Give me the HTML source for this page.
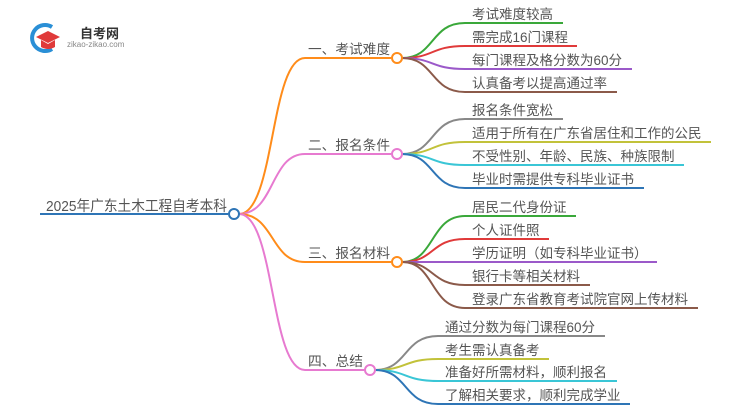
<!DOCTYPE html>
<html><head><meta charset="utf-8"><style>
body{margin:0;background:#fff;width:750px;height:410px;overflow:hidden}
svg text{font-family:"Liberation Sans","Noto Sans CJK SC",sans-serif;fill:#555;font-size:13.5px}
</style></head><body>
<svg width="750" height="410" viewBox="0 0 750 410" fill="none" stroke-width="2">
<!-- logo -->
<path d="M52,27 A13,13 0 1 0 52,49" stroke="#2a8fd6" stroke-width="4"/>
<path d="M36,37 L48,31 L60,37 L48,43 Z" fill="#e03a3a" stroke="none"/>
<path d="M41,40 L41,47 Q48,51 55,47 L55,40 L48,44 Z" fill="#e03a3a" stroke="none"/>
<text x="80" y="38" style="font-size:13px;font-weight:bold;fill:#333">自考网</text>
<text x="67" y="47" style="font-size:8px;fill:#888">zikao-zikao.com</text>

<!-- root -->
<text x="46" y="211" textLength="181" lengthAdjust="spacingAndGlyphs" style="font-size:14.5px">2025年广东土木工程自考本科</text>
<path d="M40,214 L228,214" stroke="#2e75b6"/>
<path d="M239,214 C275,214 270,58 305,58 L391,58" stroke="#ff8c1a"/>
<path d="M239,214 C275,214 270,154 305,154 L391,154" stroke="#e77ad0"/>
<path d="M239,214 C275,214 270,262 305,262 L391,262" stroke="#ff8c1a"/>
<path d="M239,214 C275,214 270,370 305,370 L364,370" stroke="#e77ad0"/>
<circle cx="234" cy="214" r="5" fill="#fff" stroke="#2e75b6"/>

<g style="font-size:13.7px">
<text x="308" y="54" textLength="82" lengthAdjust="spacingAndGlyphs">一、考试难度</text>
<text x="308" y="150" textLength="82" lengthAdjust="spacingAndGlyphs">二、报名条件</text>
<text x="308" y="258" textLength="82" lengthAdjust="spacingAndGlyphs">三、报名材料</text>
<text x="308" y="366" textLength="55" lengthAdjust="spacingAndGlyphs">四、总结</text>
</g>

<!-- branch 1 -->
<path d="M402,58 C435,58 430,23 465,23 L563,23" stroke="#3aa83a"/>
<path d="M402,58 C435,58 430,46 465,46 L577,46" stroke="#e03a3a"/>
<path d="M402,58 C435,58 430,69 465,69 L632,69" stroke="#9b59c9"/>
<path d="M402,58 C435,58 430,92 465,92 L617,92" stroke="#8b5a4a"/>
<circle cx="397" cy="58" r="5" fill="#fff" stroke="#ff8c1a"/>
<text x="472" y="19">考试难度较高</text>
<text x="472" y="42">需完成16门课程</text>
<text x="472" y="65">每门课程及格分数为60分</text>
<text x="472" y="88">认真备考以提高通过率</text>

<!-- branch 2 -->
<path d="M402,154 C435,154 430,119 465,119 L563,119" stroke="#888"/>
<path d="M402,154 C435,154 430,142 465,142 L711,142" stroke="#c2c23a"/>
<path d="M402,154 C435,154 430,165 465,165 L684,165" stroke="#3ac6d6"/>
<path d="M402,154 C435,154 430,188 465,188 L644,188" stroke="#2e75b6"/>
<circle cx="397" cy="154" r="5" fill="#fff" stroke="#e77ad0"/>
<text x="472" y="115">报名条件宽松</text>
<text x="472" y="138">适用于所有在广东省居住和工作的公民</text>
<text x="472" y="161">不受性别、年龄、民族、种族限制</text>
<text x="472" y="184">毕业时需提供专科毕业证书</text>

<!-- branch 3 -->
<path d="M402,262 C435,262 430,216 465,216 L576,216" stroke="#3aa83a"/>
<path d="M402,262 C435,262 430,239 465,239 L549,239" stroke="#e03a3a"/>
<path d="M402,262 L657,262" stroke="#9b59c9"/>
<path d="M402,262 C435,262 430,285 465,285 L590,285" stroke="#8b5a4a"/>
<path d="M402,262 C435,262 430,308 465,308 L698,308" stroke="#8b5a4a"/>
<circle cx="397" cy="262" r="5" fill="#fff" stroke="#ff8c1a"/>
<text x="472" y="212">居民二代身份证</text>
<text x="472" y="235">个人证件照</text>
<text x="472" y="258">学历证明（如专科毕业证书）</text>
<text x="472" y="281">银行卡等相关材料</text>
<text x="472" y="304">登录广东省教育考试院官网上传材料</text>

<!-- branch 4 -->
<path d="M375,370 C408,370 403,336 438,336 L605,336" stroke="#888"/>
<path d="M375,370 C408,370 403,359 438,359 L549,359" stroke="#c2c23a"/>
<path d="M375,370 C408,370 403,381 438,381 L617,381" stroke="#3ac6d6"/>
<path d="M375,370 C408,370 403,404 438,404 L630,404" stroke="#2e75b6"/>
<circle cx="370" cy="370" r="5" fill="#fff" stroke="#e77ad0"/>
<text x="445" y="332">通过分数为每门课程60分</text>
<text x="445" y="355">考生需认真备考</text>
<text x="445" y="377">准备好所需材料，顺利报名</text>
<text x="445" y="400">了解相关要求，顺利完成学业</text>
</svg>
</body></html>
